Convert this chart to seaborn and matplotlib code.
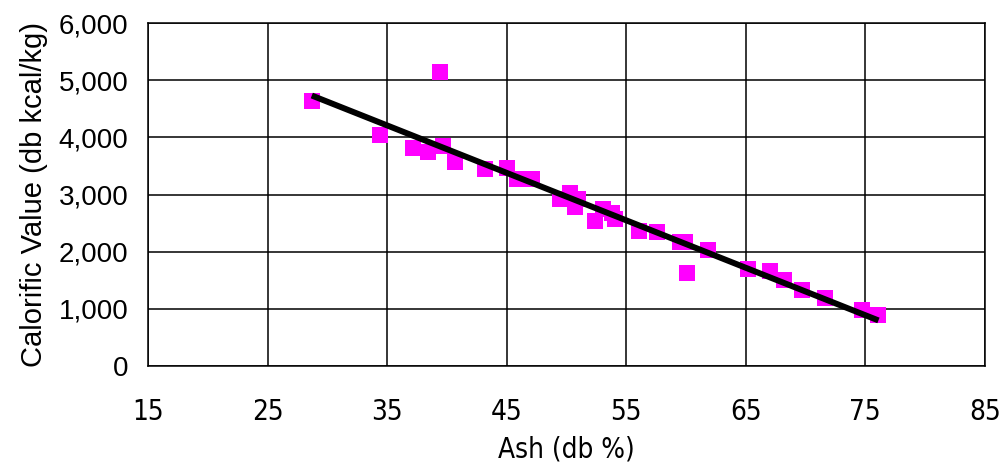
import numpy as np
import pandas as pd
import seaborn as sns
import matplotlib.pyplot as plt

sns.set_style('white')
plt.rcParams['font.family'] = ['Liberation Sans', 'DejaVu Sans']
plt.rcParams['text.color'] = 'black'
plt.rcParams['axes.labelcolor'] = 'black'
plt.rcParams['xtick.color'] = 'black'
plt.rcParams['ytick.color'] = 'black'

# values
ash = [28.7, 34.4, 37.2, 38.4, 39.4, 39.7, 40.7, 43.2, 45.0, 45.9,
       47.1, 49.5, 50.3, 51.0, 50.7, 52.4, 53.1, 53.8, 54.1, 56.1,
       57.6, 59.5, 59.9, 60.1, 61.8, 65.2, 67.0, 68.2, 69.7, 71.6,
       74.7, 76.1]
calorific = [4635, 4035, 3810, 3750, 5145, 3848, 3563, 3446, 3470, 3271,
             3271, 2916, 3036, 2931, 2776, 2537, 2741, 2676, 2570, 2367,
             2344, 2175, 2170, 1630, 2029, 1691, 1667, 1504, 1329, 1195,
             980, 887]
x_ticks = [15, 25, 35, 45, 55, 65, 75, 85]
y_ticks = [0, 1000, 2000, 3000, 4000, 5000, 6000]

df = pd.DataFrame({'ash': ash, 'cv': calorific})

fig = plt.figure(figsize=(10.07, 4.63), dpi=100)
ax = fig.add_axes([0.147, 0.2095, 0.831, 0.7405])

sns.regplot(data=df, x='ash', y='cv', ax=ax, ci=None, marker='s',
            scatter_kws={'color': '#FF00FF', 's': 135, 'linewidths': 0, 'alpha': 1, 'zorder': 3},
            line_kws={'color': 'black', 'lw': 4.3, 'zorder': 4, 'solid_capstyle': 'butt'})

ax.set_xlim(15, 85)
ax.set_ylim(0, 6000)
ax.set_xticks(x_ticks)
ax.set_yticks(y_ticks)
ax.set_yticklabels([f'{v:,}' for v in y_ticks])
ax.grid(True, color='black', lw=1.1)
ax.set_axisbelow(True)
for s in ax.spines.values():
    s.set_color('black')
    s.set_linewidth(1.1)

ax.tick_params(axis='y', labelsize=20, length=0, pad=14)
ax.tick_params(axis='x', length=0, pad=23)
for lab in ax.get_xticklabels():
    lab.set_fontsize(20)
    lab.set_family('DejaVu Sans')
    lab.set_stretch('condensed')

ax.set_xlabel('Ash (db %)', fontsize=20, family='DejaVu Sans', fontstretch='condensed', labelpad=7)
ax.set_ylabel('Calorific Value (db kcal/kg)', fontsize=21, labelpad=8)

fig.savefig('out.png', dpi=100)
